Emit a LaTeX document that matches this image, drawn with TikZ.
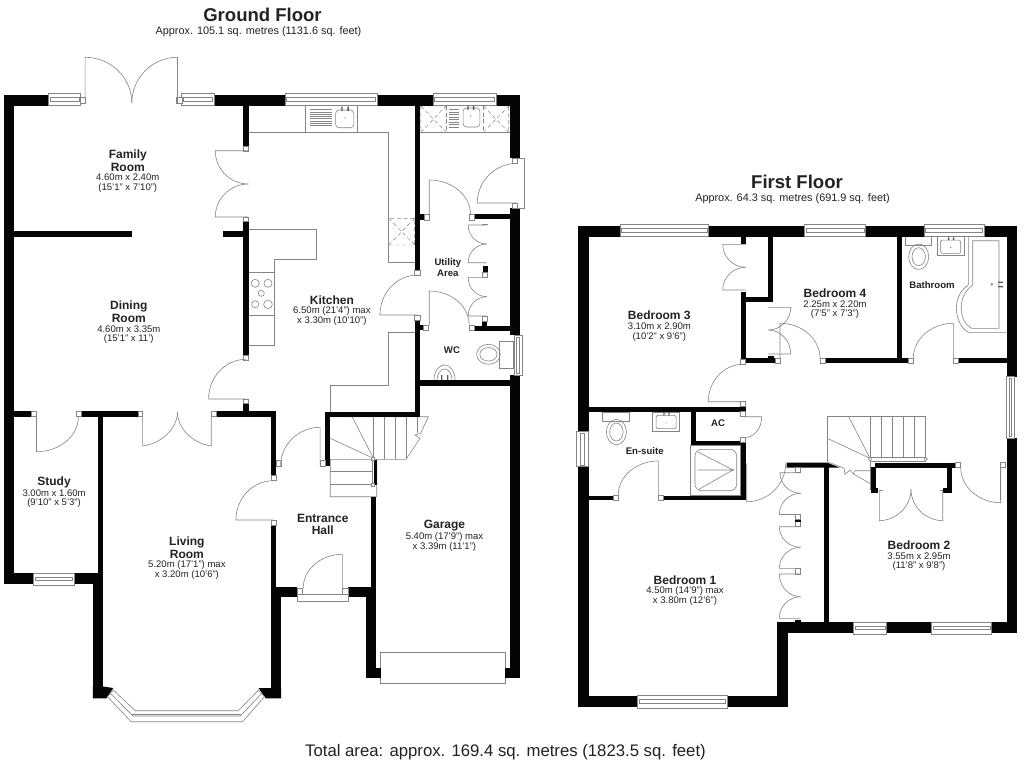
\documentclass[tikz,border=0pt]{standalone}
\usepackage{fontspec}
\setmainfont{Liberation Sans}
\definecolor{wallc}{HTML}{050505}
\definecolor{linec}{HTML}{858585}
\definecolor{textc}{HTML}{222222}
\tikzset{
  ln/.style={draw=linec,line width=0.45pt},
  lnw/.style={draw=linec,line width=0.45pt,fill=white},
  dsh/.style={draw=linec,line width=0.35pt,densely dashed},
  tapc/.style={fill=textc!75},
  title/.style={font=\bfseries\fontsize{13.9pt}{15pt}\selectfont,text=textc,inner sep=0pt},
  subt/.style={font=\fontsize{8.15pt}{9pt}\selectfont,text=textc,inner sep=0pt},
  total/.style={font=\fontsize{12.55pt}{14pt}\selectfont,text=textc,inner sep=0pt},
  rname/.style={font=\bfseries\fontsize{9pt}{10pt}\selectfont,text=textc,inner sep=0pt},
  rsmall/.style={font=\bfseries\fontsize{7.2pt}{8pt}\selectfont,text=textc,inner sep=0pt},
  rdim/.style={font=\fontsize{7.15pt}{8pt}\selectfont,text=textc,inner sep=0pt}
}
\newcommand{\wl}[4]{\fill[wallc] (#1,#2) rectangle (#3,#4);}
\newcommand{\jm}[4]{\draw[lnw] (#1,#2) rectangle (#3,#4);}
% hinge x,y / open end x,y / closing end x,y
\newcommand{\door}[6]{%
  \pgfmathsetmacro\dAx{#3+0.5523*(#5-#1)}%
  \pgfmathsetmacro\dAy{#4+0.5523*(#6-#2)}%
  \pgfmathsetmacro\dBx{#5+0.5523*(#3-#1)}%
  \pgfmathsetmacro\dBy{#6+0.5523*(#4-#2)}%
  \draw[ln] (#1,#2) -- (#3,#4) .. controls (\dAx,\dAy) and (\dBx,\dBy) .. (#5,#6);}
\newcommand{\hwin}[4]{% x1 y1 x2 y2
  \draw[lnw] (#1,#2) rectangle (#3,#4);
  \pgfmathsetmacro\wA{#1+1.6}\pgfmathsetmacro\wB{#3-1.6}%
  \pgfmathsetmacro\wC{#2+0.32*(#4-#2)}\pgfmathsetmacro\wD{#2+0.62*(#4-#2)}%
  \draw[ln] (\wA,\wC) rectangle (\wB,\wD);}
\newcommand{\vwin}[4]{%
  \draw[lnw] (#1,#2) rectangle (#3,#4);
  \pgfmathsetmacro\wA{#2+1.6}\pgfmathsetmacro\wB{#4-1.6}%
  \pgfmathsetmacro\wC{#1+0.32*(#3-#1)}\pgfmathsetmacro\wD{#1+0.62*(#3-#1)}%
  \draw[ln] (\wC,\wA) rectangle (\wD,\wB);}
\newcommand{\xbox}[4]{\draw[dsh] (#1,#2) rectangle (#3,#4) (#1,#2) -- (#3,#4) (#1,#4) -- (#3,#2);}
\newcommand{\basinv}[2]{% top-left
  \begin{scope}[shift={(#1,#2)}]
  \draw[ln] (0,0) rectangle (26.7,19);
  \draw[ln,rounded corners=1pt] (3.4,3.4) rectangle (23.4,16.6);
  \fill[tapc] (10.6,0.6) rectangle (12,3.4) (15.6,0.6) rectangle (17,3.4);
  \fill[tapc] (13.4,11) circle (0.6);
  \end{scope}}
\newcommand{\toiletv}[2]{%
  \begin{scope}[shift={(#1,#2)}]
  \draw[ln] (0,0) rectangle (26.7,9);
  \draw[ln] (13.7,20) ellipse (10 and 12.7);
  \draw[ln] (13.7,20) ellipse (6.7 and 9);
  \end{scope}}
\begin{document}
\begin{tikzpicture}[x=0.75pt,y=-0.75pt]
\fill[white] (0,0) rectangle (1024,768);
\useasboundingbox (0,0) rectangle (1024,768);

% ============ GROUND FLOOR ============
\begin{scope}[x=0.7605pt]
% fittings
\draw[ln] (245.3,132.3) -- (383.3,132.3) -- (383.3,262.7) -- (409,262.7);
\draw[ln] (301,105.7) -- (301,132.3) (352.7,105.7) -- (352.7,132.3);
\foreach \yy in {109.5,111.8,114.1,116.4,118.7,121,123.3,125.6}{\draw[ln] (305.7,\yy) -- (327.7,\yy);}
\draw[ln,rounded corners=2.5pt] (331,110) rectangle (349,127.7);
\fill[tapc] (336.6,106.5) rectangle (338,111) (342.6,106.5) rectangle (344,111);
\fill[tapc] (340.3,118) circle (0.6);
\xbox{383.3}{218.3}{409}{245}
\draw[ln] (245.3,229.3) -- (311.7,229.3) -- (311.7,259.3) -- (271,259.3) -- (271,345.7) -- (245.3,345.7);
\draw[ln] (245.3,272.3) -- (271,272.3) (245.3,315) -- (271,315);
\draw[ln] (251.7,283.3) circle (4) (264.3,283.3) circle (4) (257.7,293.3) circle (3) (251.7,304.3) circle (3.5) (264.3,304.3) circle (4.3);
\draw[ln] (409,332.3) -- (383.3,332.3) -- (383.3,385) -- (325.7,385) -- (325.7,412);
% utility counter
\draw[ln] (414.3,132.3) -- (502.7,132.3);
\xbox{415}{106}{440}{132.3}
\xbox{476.7}{106}{501.7}{132.3}
\draw[dsh] (440,106) -- (440,132.3) (476.7,106) -- (476.7,132.3);
\foreach \yy in {109.5,112,114.5,117,119.5,122,124.5,127}{\draw[ln] (442.7,\yy) -- (452.7,\yy);}
\draw[ln,rounded corners=2.5pt] (456.7,108) rectangle (473.3,127);
\fill[tapc] (460.8,106) rectangle (462.2,110) (466.3,106) rectangle (467.7,110);
\fill[tapc] (464.3,116) circle (0.6);
% WC fittings
\draw[ln] (492.7,341.7) rectangle (506.7,368.3);
\draw[ln] (481.7,354.3) ellipse (11.7 and 10);
\draw[ln] (481.7,354.3) ellipse (8.5 and 6.8);
\draw[ln] (428,380) arc[start angle=180,end angle=360,x radius=10.4,y radius=15];
\draw[ln] (431,380) arc[start angle=180,end angle=360,x radius=7.4,y radius=11];
\fill[tapc] (435,375) rectangle (436.2,380) (441,375) rectangle (442.2,380);
% garage door
\draw[ln] (375,652.3) rectangle (498.3,683.3);
% stairs
\draw[ln] (325.7,416.7) -- (422.4,416.7) -- (414.8,433.3) -- (409.3,435) -- (414.2,438.3) -- (410.9,443.3) -- (400.4,459.3) -- (325.7,459.3) -- (325.7,496.7) -- (371.5,496.7) -- (371.5,459.3);
\draw[ln] (411.9,416.7) -- (411.9,433.3);
\foreach \xx in {368.3,379.3,390,401}{\draw[ln] (\xx,416.7) -- (\xx,459.3);}
\draw[ln] (347.3,416.7) -- (368.3,458.3) (325.7,438.3) -- (368.3,458.3);
\draw[ln] (325.7,471.7) -- (367,471.7) (325.7,484) -- (367,484);
\fill[wallc] (369.3,460) rectangle (371.3,485);
\jm{366.5}{457.3}{369.5}{460.3}
\jm{366.5}{483}{369.5}{486}
\draw[ln] (367,460) -- (367,484);

% walls
\wl{4}{95}{48}{105.7}\wl{211}{95}{281}{105.7}\wl{372}{95}{427}{105.7}\wl{489}{95}{512.7}{105.7}
\wl{4}{95}{14}{584}
\wl{502.7}{95}{512.7}{158}\wl{502.7}{208}{512.7}{335}\wl{502.7}{375}{512.7}{678.3}
\wl{498.3}{667.7}{512.7}{678.3}
\wl{240}{105.7}{245.3}{147}\wl{240}{221.7}{245.3}{355}\wl{240}{403}{245.3}{412}
\wl{14}{231.3}{130}{236.7}\wl{220}{231.3}{240}{236.7}
\wl{409}{105.7}{414.3}{270.7}\wl{409}{320.7}{414.3}{416.7}
\wl{468}{214.3}{503}{219.3}\wl{414}{214.3}{418}{220}
\wl{467.3}{325.7}{503}{330.7}\wl{475}{322}{480}{326}\wl{414}{325}{418}{330}
\wl{476}{266}{481}{272}
\wl{414}{380}{503}{385.7}
\wl{321}{411.7}{414}{416.7}\wl{321}{411.7}{325.7}{466}
\wl{14}{411.3}{31.7}{416.7}\wl{80.7}{411.3}{136}{416.7}\wl{213}{411.3}{272.3}{416.7}
\wl{96.7}{411.3}{101.7}{573.3}
\wl{4}{573.3}{33}{584}\wl{73.3}{573.3}{101.7}{584}
\wl{91.7}{573.3}{101.7}{698.3}
\wl{267.3}{411.3}{272.3}{475}\wl{267.3}{525}{272.3}{590}\wl{267.3}{586.7}{277.3}{698.3}
\wl{272.3}{586.7}{293.3}{596.7}\wl{343.3}{586.7}{366}{596.7}
\wl{366}{496.7}{370.7}{590}\wl{360.7}{586.7}{370.7}{678.3}\wl{360.7}{667.7}{375.7}{678.3}
% bay
\fill[wallc] (91.7,685) -- (111.7,688) -- (105,698.3) -- (91.7,698.3) -- cycle;
\fill[wallc] (277.3,688) -- (255,688) -- (262,698.3) -- (277.3,698.3) -- cycle;
\filldraw[fill=white,draw=linec,line width=0.45pt] (106,696.7) -- (129.3,721.7) -- (239.3,721.7) -- (260.7,696.7) -- (255,690) -- (235,710.7) -- (133.3,710.7) -- (111.7,690) -- cycle;
\draw[ln] (109,693.5) -- (131,716) -- (237,716) -- (258,693.5);
\draw[ln] (130,714.5) -- (238,714.5);

% windows
\hwin{48}{93.3}{79.5}{105.7}\hwin{179}{93.3}{211}{105.7}\hwin{281}{93.3}{372}{105.7}\hwin{427}{93.3}{489}{105.7}
\hwin{33}{573.3}{73.3}{585}
\vwin{507}{335.5}{515}{375}
% jambs
\jm{79.3}{97.3}{84}{103.3}\jm{174.3}{97.3}{179.3}{103.3}
\jm{240}{146.7}{245.3}{151}\jm{240}{217}{245.3}{221.7}
\jm{505}{158}{510}{163}\jm{505}{203}{510}{208}
\draw[ln] (510,158) -- (517.3,158) -- (517.3,208) -- (510,208);
\jm{418}{214.3}{423}{220}\jm{463.3}{214.3}{467.7}{220}
\jm{409}{270.7}{414.3}{275.7}\jm{409}{315.7}{414.3}{320.7}
\jm{417.7}{325}{422.7}{330}\jm{463}{325.7}{467.3}{330}
\jm{476}{272}{481}{277}\jm{476}{316}{481}{321.5}
\jm{31}{411.3}{35.7}{416.7}\jm{75.3}{411.3}{80.3}{416.7}
\jm{136}{411.3}{140.7}{416.7}\jm{208.3}{411.3}{213}{416.7}
\jm{240}{355}{245.3}{360}\jm{240}{399}{245.3}{403}
\jm{272.3}{460.7}{277.3}{466}\jm{315.7}{460.7}{320.7}{466}
\jm{267.3}{475}{272.3}{480}\jm{267.3}{520}{272.3}{525}
\jm{293.3}{588.3}{298.3}{594.3}\jm{337.7}{588.3}{343.3}{594.3}
\draw[ln] (293.3,594.3) rectangle (343.3,601);
% doors
\door{84}{103}{84}{57.3}{130}{103}
\door{175}{103}{175}{57.3}{130}{103}
\door{245}{150.7}{212.3}{150.7}{245}{184}
\door{245}{217}{212.3}{217}{245}{184}
\door{510}{203}{470.7}{203}{510}{163.3}
\door{423.3}{214.3}{423.3}{180}{464}{214.3}
\door{411.7}{315}{374.7}{315}{411.7}{275}
\door{423.3}{325}{423.3}{291}{462.7}{325}
\door{480}{225}{461.7}{225}{480}{244}
\door{480}{262.7}{461.7}{262.7}{480}{244}
\door{480}{277.3}{461.7}{277.3}{480}{296.7}
\door{480}{316}{461.7}{316}{480}{296.7}
\door{36}{416.7}{36}{451.7}{77.3}{416.7}
\door{140.7}{416.7}{140.7}{446}{175}{412}
\door{208.3}{416.7}{208.3}{446}{175}{412}
\door{242.7}{399}{205.7}{399}{242.7}{359.3}
\door{315.7}{466}{315.7}{427.3}{276.7}{466}
\door{269.3}{520}{232.7}{520}{269.3}{480.7}
\door{337.7}{588.3}{337.7}{554.3}{299}{588.3}
\draw[ln] (475,224.5) -- (481,224.5);
% labels
\node[rname] (family1) at (126,155) {Family};
\node[rname] (family2) at (126,167) {Room};
\node[rdim] (family3) at (126,177.7) {4.60m x 2.40m};
\node[rdim] (family4) at (126,187.7) {(15'1" x 7'10")};
\node[rname] (dining1) at (127,306.7) {Dining};
\node[rname] (dining2) at (127,318.3) {Room};
\node[rdim] (dining3) at (127,329.3) {4.60m x 3.35m};
\node[rdim] (dining4) at (127,339) {(15'1" x 11')};
\node[rname] (kit1) at (327.3,300) {Kitchen};
\node[rdim] (kit2) at (327.3,311) {6.50m (21'4") max};
\node[rdim] (kit3) at (327.3,321) {x 3.30m (10'10")};
\node[rsmall] (util1) at (441.7,263.3) {Utility};
\node[rsmall] (util2) at (441.7,273.3) {Area};
\node[rsmall] (wc1) at (445.7,350) {WC};
\node[rname] (study1) at (53.3,482.7) {Study};
\node[rdim] (study2) at (53.3,493.3) {3.00m x 1.60m};
\node[rdim] (study3) at (53.3,503.3) {(9'10" x 5'3")};
\node[rname] (liv1) at (184.3,542.7) {Living};
\node[rname] (liv2) at (184.3,554.3) {Room};
\node[rdim] (liv3) at (184.3,565.3) {5.20m (17'1") max};
\node[rdim] (liv4) at (184.3,575) {x 3.20m (10'6")};
\node[rname] (ent1) at (318.3,518.3) {Entrance};
\node[rname] (ent2) at (318.3,530.7) {Hall};
\node[rname] (gar1) at (438.3,526) {Garage};
\node[rdim] (gar2) at (438.3,536.7) {5.40m (17'9") max};
\node[rdim] (gar3) at (438.3,546.7) {x 3.39m (11'1")};
\end{scope}

% ============ FIRST FLOOR ============
% bathroom
\toiletv{905}{236.7}
\basinv{937.3}{236.7}
\draw[ln] (968.3,236.7) -- (968.3,285) .. controls (950,297) and (955,325) .. (968.3,332.3) -- (1006.7,332.3);
\draw[ln] (972.7,240.7) -- (999,240.7) -- (999,328.3) -- (971.7,328.3) .. controls (959,322) and (956,297) .. (972.7,285) -- cycle;
\draw[ln] (991.7,284.3) circle (1);
\fill[tapc] (998,281.5) rectangle (1003,282.8) (998,286) rectangle (1003,287.3);
% en-suite
\toiletv{602.7}{412}
\basinv{652.7}{412}
\draw[ln] (690.7,445.3) rectangle (740.7,495.7);
\draw[ln,rounded corners=5pt] (695,449.3) rectangle (736.7,490.7);
\draw[ln] (732.7,470) circle (1);
\draw[ln] (732,469.5) -- (698.5,452.3) (732,470) -- (697.5,470) (732,470.5) -- (698.5,489.5);
% stairs
\draw[ln] (827.3,461.7) -- (827.3,416) -- (925.7,416) -- (925.7,458.3);
\foreach \xx in {870,881.3,892.3,903.3,914.7}{\draw[ln] (\xx,416) -- (\xx,458.3);}
\draw[ln] (848.3,416) -- (870,458.3) (827.3,438.3) -- (870,458.3);
\draw[lnw] (870,457) rectangle (925.7,460.8);
\draw[lnw] (870,459) circle (1.7) (925.7,459) circle (1.7);
\draw[ln] (827.3,461.7) -- (844,468.3) -- (845,474.3) -- (850,470) -- (853.3,474) -- (855,470.7) -- (870,470.7);
\draw[ln] (853.3,474) -- (870,483.3);
\draw[ln] (870.5,460) -- (870.5,490);
% walls
\wl{578}{225.7}{620}{236.7}\wl{708.7}{225.7}{804.3}{236.7}\wl{865.7}{225.7}{924}{236.7}\wl{984.3}{225.7}{1016.7}{236.7}
\wl{578}{225.7}{588.7}{431}\wl{578}{466.7}{588.7}{706.7}
\wl{578}{695.7}{637.7}{706.7}\wl{727.3}{695.7}{787.7}{706.7}
\wl{777.3}{622.3}{787.7}{706.7}
\wl{777.3}{622.3}{853.3}{632.7}\wl{886.7}{622.3}{931.7}{632.7}\wl{991.7}{622.3}{1016.7}{632.7}
\wl{1006.7}{225.7}{1016.7}{376.7}\wl{1006.7}{438.3}{1016.7}{632.7}
\wl{740.7}{236.7}{745.7}{243.5}\wl{740.7}{291.7}{745.7}{363.3}
\wl{740.7}{296.7}{772.5}{302.3}\wl{767.7}{236.7}{772.7}{302.3}
\wl{745.7}{358.3}{775}{363.3}\wl{768.3}{355.7}{774}{358.3}
\wl{825}{358.3}{908.3}{363.3}\wl{958.3}{358.3}{1006.7}{363.3}
\wl{896.7}{236.7}{902.3}{358.3}
\wl{588.7}{406.7}{745.7}{412}
\wl{690.7}{412}{695.7}{445.3}\wl{690.7}{440.7}{745.7}{445.3}
\wl{740.7}{440.7}{745.7}{500}
\wl{663.3}{495.7}{745.7}{500}\wl{588.7}{495.7}{613.3}{500}
\fill[wallc] (786.7,462.7) -- (827.3,462.7) -- (840,467.7) -- (786.7,467.7) -- cycle;
\wl{824}{467}{829}{622.5}
\wl{875}{462.7}{955.7}{467.7}
\wl{871}{466.5}{876}{490}\wl{870.7}{488}{878.3}{493}
\wl{946.7}{466.5}{951.7}{490}\wl{943.3}{488}{951.7}{493}
% windows
\hwin{620}{224.5}{708.7}{236.7}\hwin{804.3}{224.5}{865.7}{236.7}\hwin{924}{224.5}{984.3}{236.7}
\vwin{1006.7}{376.7}{1014}{438.3}
\vwin{576.7}{431.7}{588.7}{466.7}
\hwin{637.7}{695.7}{727.3}{708}
\hwin{853.3}{622.3}{886.7}{634}
\hwin{931.7}{622.3}{991.7}{634}
% jambs
\jm{740.7}{359.3}{745.7}{364.3}\jm{740.7}{401.7}{745.7}{406.7}
\jm{740.7}{411.7}{745.7}{416.7}\jm{740.7}{437.3}{745.7}{442.3}
\jm{775}{358.3}{780}{363.3}\jm{820}{358.3}{825}{363.3}
\jm{908.3}{358.3}{913.3}{363.3}\jm{953.3}{358.3}{958.3}{363.3}
\jm{613.3}{495}{618.3}{500}\jm{658.3}{495}{663.3}{500}
\jm{955.7}{462.7}{960.7}{467.3}\jm{1000.7}{462.7}{1005.7}{467.3}
\jm{795}{467.7}{800.7}{472.7}
\jm{795}{514.5}{800.7}{519.5}\jm{795}{521.5}{800.7}{526.7}
\wl{795}{519.5}{800.7}{521.5}
\jm{795}{568.3}{800.7}{574}
\wl{795}{620}{800.7}{622.3}
\draw[ln] (1000.7,467.3) -- (1000.7,500);
\draw[ln] (883,490) -- (879.3,490) (940,490) -- (942.7,490);
% doors
\door{743}{401.7}{708.3}{401.7}{743}{364.3}
\door{745}{416.7}{761.7}{416.7}{745}{437.5}
\door{658.3}{495}{658.3}{461}{618.3}{495}
\door{953.3}{358.3}{953.3}{323.3}{913.3}{358.3}
\door{780}{358.3}{780}{323.3}{820}{358.3}
\door{768.3}{307.3}{790.7}{307.3}{768.3}{330}
\door{768.3}{354}{790.7}{354}{768.3}{330}
\door{745.7}{244.3}{722.7}{244.3}{745.7}{267.3}
\door{745.7}{290}{722.7}{290}{745.7}{267.3}
\door{879.3}{490}{879.3}{520.7}{911}{489.3}
\door{942.7}{490}{942.7}{520.7}{911}{489.3}
\door{1000.7}{467.3}{1000.7}{502.7}{960.7}{467.3}
\door{746.7}{463.3}{746.7}{501.7}{785.7}{463.3}
\door{800.7}{472.7}{780}{472.7}{800.7}{493.3}
\door{800.7}{514.5}{779.3}{514.5}{800.7}{493.3}
\door{800.7}{526.7}{779.3}{526.7}{800.7}{547.3}
\door{800.7}{568.3}{779.3}{568.3}{800.7}{547.3}
\door{800.7}{574}{779.3}{574}{800.7}{596.7}
\door{800.7}{618.3}{779.3}{618.3}{800.7}{596.7}
% labels
\node[rname] (bed3a) at (659.3,315.7) {Bedroom 3};
\node[rdim] (bed3b) at (659.3,326.7) {3.10m x 2.90m};
\node[rdim] (bed3c) at (659.3,336.7) {(10'2" x 9'6")};
\node[rname] (bed4a) at (835,293.3) {Bedroom 4};
\node[rdim] (bed4b) at (835,304.7) {2.25m x 2.20m};
\node[rdim] (bed4c) at (835,314.3) {(7'5" x 7'3")};
\node[rsmall] (bath) at (932,285) {Bathroom};
\node[rsmall] (ac) at (718,423.3) {AC};
\node[rsmall] (ensuite) at (644.7,450.7) {En-suite};
\node[rname] (bed1a) at (685,580.7) {Bedroom 1};
\node[rdim] (bed1b) at (685,591.3) {4.50m (14'9") max};
\node[rdim] (bed1c) at (685,601.3) {x 3.80m (12'6")};
\node[rname] (bed2a) at (919,545.7) {Bedroom 2};
\node[rdim] (bed2b) at (919,556.7) {3.55m x 2.95m};
\node[rdim] (bed2c) at (919,566) {(11'8" x 9'8")};
% titles
\node[title] (gf) at (262.5,15) {Ground Floor};
\node[subt] (gfs) at (258.5,32) {Approx. 105.1 sq. metres (1131.6 sq. feet)};
\node[title] (ff) at (797,182) {First Floor};
\node[subt] (ffs) at (792.5,199) {Approx. 64.3 sq. metres (691.9 sq. feet)};
\node[total] (tot) at (505.5,752) {Total area: approx. 169.4 sq. metres (1823.5 sq. feet)};
\end{tikzpicture}
\end{document}
